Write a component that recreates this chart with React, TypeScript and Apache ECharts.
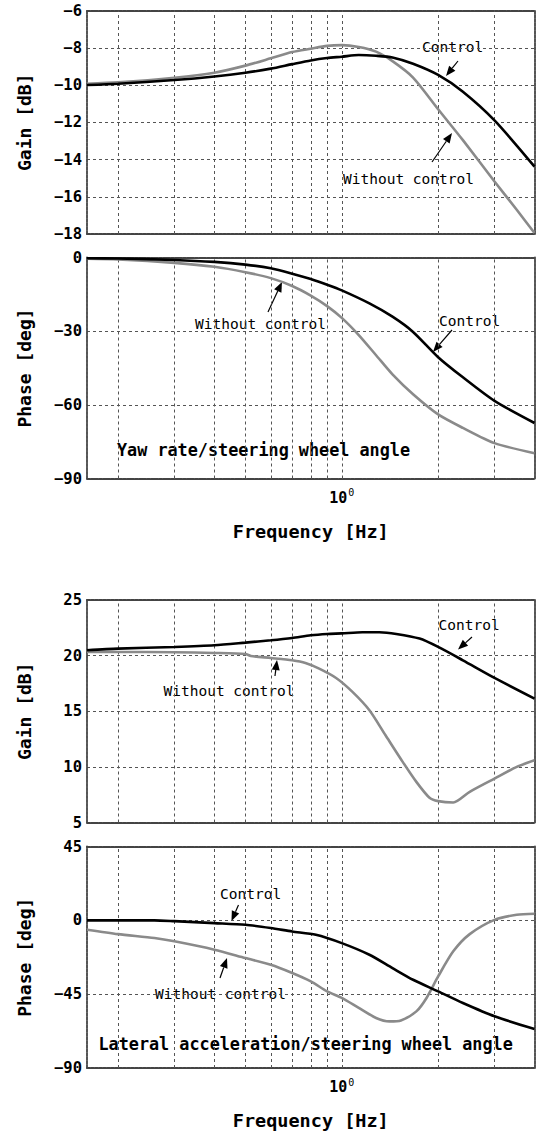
import React, { useEffect, useRef } from 'react';
import * as echarts from 'echarts';

// Yaw rate / steering wheel angle — gain [dB]
const yawGainCtrlFreq = [0.16, 0.2, 0.3, 0.4, 0.5, 0.6, 0.7, 0.8, 0.9, 1.0, 1.13, 1.28, 1.44, 1.67, 2.0, 2.39, 3.0, 4.0];
const yawGainCtrl = [-10.0, -9.93, -9.73, -9.54, -9.34, -9.12, -8.88, -8.68, -8.55, -8.48, -8.39, -8.43, -8.52, -8.86, -9.46, -10.36, -11.9, -14.38];
const yawGainWoFreq = [0.16, 0.2, 0.3, 0.4, 0.5, 0.6, 0.7, 0.8, 0.9, 1.0, 1.13, 1.28, 1.44, 1.67, 2.0, 2.39, 3.0, 3.52, 4.0];
const yawGainWo = [-9.93, -9.86, -9.61, -9.34, -8.96, -8.57, -8.23, -8.05, -7.9, -7.86, -7.96, -8.21, -8.72, -9.6, -11.3, -12.96, -15.18, -16.7, -17.95];

// Yaw rate / steering wheel angle — phase [deg]
const yawPhaseCtrlFreq = [0.16, 0.2, 0.3, 0.4, 0.5, 0.6, 0.7, 0.8, 0.9, 1.0, 1.22, 1.44, 1.67, 2.0, 2.39, 3.0, 4.0];
const yawPhaseCtrl = [-0.3, -0.4, -1.0, -1.8, -2.9, -4.4, -6.6, -8.8, -11.1, -13.4, -18.7, -24.1, -30.3, -40.6, -48.8, -58.4, -67.4];
const yawPhaseWoFreq = [0.16, 0.2, 0.3, 0.4, 0.5, 0.6, 0.7, 0.8, 0.9, 1.0, 1.13, 1.28, 1.44, 1.67, 2.0, 2.39, 3.0, 4.0];
const yawPhaseWo = [-0.5, -0.8, -2.2, -3.8, -6.0, -8.4, -11.6, -15.5, -19.8, -24.6, -31.6, -39.8, -47.6, -55.7, -63.9, -69.4, -75.6, -79.7];

// Lateral acceleration / steering wheel angle — gain [dB]
const latGainCtrlFreq = [0.16, 0.2, 0.3, 0.4, 0.5, 0.6, 0.7, 0.8, 0.9, 1.0, 1.16, 1.31, 1.48, 1.75, 2.0, 2.39, 3.0, 4.0];
const latGainCtrl = [20.48, 20.63, 20.78, 20.93, 21.17, 21.38, 21.59, 21.83, 21.95, 22.0, 22.1, 22.1, 21.95, 21.53, 20.78, 19.58, 18.0, 16.14];
const latGainWoFreq = [0.16, 0.2, 0.3, 0.4, 0.5, 0.52, 0.6, 0.7, 0.77, 0.85, 0.96, 1.08, 1.22, 1.37, 1.55, 1.71, 1.88, 2.0, 2.23, 2.51, 3.0, 3.52, 4.0];
const latGainWo = [20.33, 20.33, 20.3, 20.24, 20.15, 19.97, 19.79, 19.58, 19.34, 18.83, 17.99, 16.74, 15.09, 12.84, 10.45, 8.65, 7.22, 6.92, 6.8, 7.76, 8.95, 10.0, 10.6];

// Lateral acceleration / steering wheel angle — phase [deg]
const latPhaseCtrlFreq = [0.16, 0.2, 0.26, 0.3, 0.4, 0.5, 0.6, 0.7, 0.83, 1.0, 1.22, 1.44, 1.67, 2.0, 2.39, 3.0, 4.0];
const latPhaseCtrl = [0, 0, 0, -0.5, -1.7, -2.7, -4.7, -6.8, -8.8, -13.9, -21.0, -29.1, -36.2, -43.3, -50.4, -58.5, -66.2];
const latPhaseWoFreq = [0.16, 0.2, 0.26, 0.3, 0.4, 0.5, 0.6, 0.7, 0.8, 0.9, 1.0, 1.13, 1.28, 1.41, 1.53, 1.71, 1.84, 2.0, 2.23, 2.51, 3.0, 3.52, 4.0];
const latPhaseWo = [-5.7, -8.4, -10.8, -12.8, -17.9, -23.0, -27.1, -32.1, -37.2, -43.3, -47.3, -53.4, -59.5, -61.6, -61.0, -55.5, -47.3, -34.2, -18.9, -8.4, 0.3, 3.4, 4.0];

// Vertical grid frequencies and axis ranges
const freqGrid = [0.2, 0.3, 0.4, 0.5, 0.6, 0.7, 0.8, 0.9, 1, 2, 3];
const freqMin = 0.16;
const freqMax = 4;
const yRanges = [
  { min: -18, max: -6, interval: 2, name: 'Gain [dB]' },
  { min: -90, max: 0, interval: 30, name: 'Phase [deg]' },
  { min: 5, max: 25, interval: 5, name: 'Gain [dB]' },
  { min: -90, max: 45, interval: 45, name: 'Phase [deg]' },
];

const MONO = '"DejaVu Sans Mono", "Liberation Mono", monospace';
const BLACK = '#000000';
const GRAY = '#8a8a8a';
const GRID_COLOR = '#555555';
const BORDER_COLOR = '#444444';

const pairs = (f: number[], v: number[]) => f.map((x, i) => [x, v[i]]);

const layouts = [
  { top: 10.5, height: 223.5 },
  { top: 257.5, height: 221 },
  { top: 600, height: 222.5 },
  { top: 846.5, height: 221.5 },
];

function arrow(x1: number, y1: number, x2: number, y2: number) {
  const dx = x2 - x1;
  const dy = y2 - y1;
  const len = Math.hypot(dx, dy);
  const ux = dx / len;
  const uy = dy / len;
  const hl = 10;
  const hw = 4;
  const bx = x2 - ux * hl;
  const by = y2 - uy * hl;
  return [
    { type: 'line', silent: true, shape: { x1, y1, x2: bx, y2: by }, style: { stroke: BLACK, lineWidth: 1.2 } },
    {
      type: 'polygon',
      silent: true,
      shape: { points: [[x2, y2], [bx - uy * hw, by + ux * hw], [bx + uy * hw, by - ux * hw]] },
      style: { fill: BLACK },
    },
  ];
}

function label(x: number, y: number, text: string, bold = false, size = 14.5) {
  return {
    type: 'text',
    silent: true,
    x,
    y,
    style: {
      text,
      fill: BLACK,
      fontFamily: MONO,
      fontSize: size,
      fontWeight: bold ? 'bold' : 'normal',
      align: 'left',
      textAlign: 'left',
      verticalAlign: 'middle',
      textVerticalAlign: 'middle',
    },
  };
}

function buildOption() {
  const grid = layouts.map((l) => ({ left: 87, width: 447.5, top: l.top, height: l.height, show: false }));
  const axisLineStyle = { color: BORDER_COLOR, width: 1.8, type: [3, 1] as any };

  const xAxis: any[] = [];
  const yAxis: any[] = [];
  layouts.forEach((_, i) => {
    const withLabels = i === 1 || i === 3;
    xAxis.push({
      type: 'log',
      logBase: 10,
      gridIndex: i,
      min: freqMin,
      max: freqMax,
      position: 'bottom',
      axisLine: { show: true, onZero: false, lineStyle: axisLineStyle },
      axisTick: { show: false },
      splitLine: { show: false },
      axisLabel: {
        show: withLabels,
        margin: 9,
        showMinLabel: false,
        showMaxLabel: false,
        formatter: (v: number) => {
          const e = Math.log10(v);
          if (Math.abs(e - Math.round(e)) > 1e-6) return '';
          return `{b|10}{s|${Math.round(e)}}`;
        },
        rich: {
          b: { fontSize: 15, fontWeight: 'bold', fontFamily: MONO, color: BLACK, lineHeight: 20 },
          s: { fontSize: 10, fontFamily: MONO, color: BLACK, verticalAlign: 'top', padding: [0, 0, 0, 1] },
        },
      },
      name: withLabels ? 'Frequency [Hz]' : '',
      nameLocation: 'middle',
      nameGap: 43,
      nameTextStyle: { fontSize: 18.5, fontWeight: 'bold', fontFamily: MONO, color: BLACK },
    });
    xAxis.push({
      type: 'log',
      logBase: 10,
      gridIndex: i,
      min: freqMin,
      max: freqMax,
      position: 'top',
      axisLine: { show: true, onZero: false, lineStyle: axisLineStyle },
      axisTick: { show: false },
      splitLine: { show: false },
      axisLabel: { show: false },
    });
    const r = yRanges[i];
    yAxis.push({
      type: 'value',
      gridIndex: i,
      min: r.min,
      max: r.max,
      interval: r.interval,
      position: 'left',
      axisLine: { show: true, onZero: false, lineStyle: axisLineStyle },
      axisTick: { show: false },
      splitLine: { show: true, lineStyle: { color: GRID_COLOR, width: 1, type: [3, 3] } },
      axisLabel: {
        margin: 5,
        fontSize: 15.5,
        fontWeight: 'bold',
        fontFamily: MONO,
        color: BLACK,
        formatter: (v: number) => (v < 0 ? '\u2212' + Math.abs(v) : String(v)),
      },
      name: r.name,
      nameLocation: 'middle',
      nameGap: 54,
      nameTextStyle: { fontSize: 18, fontWeight: 'bold', fontFamily: MONO, color: BLACK },
    });
    yAxis.push({
      type: 'value',
      gridIndex: i,
      min: r.min,
      max: r.max,
      position: 'right',
      axisLine: { show: true, onZero: false, lineStyle: axisLineStyle },
      axisTick: { show: false },
      splitLine: { show: false },
      axisLabel: { show: false },
    });
  });

  const curves = [
    { g: 0, f: yawGainWoFreq, v: yawGainWo, c: GRAY, name: 'Without control' },
    { g: 0, f: yawGainCtrlFreq, v: yawGainCtrl, c: BLACK, name: 'Control' },
    { g: 1, f: yawPhaseWoFreq, v: yawPhaseWo, c: GRAY, name: 'Without control' },
    { g: 1, f: yawPhaseCtrlFreq, v: yawPhaseCtrl, c: BLACK, name: 'Control' },
    { g: 2, f: latGainWoFreq, v: latGainWo, c: GRAY, name: 'Without control' },
    { g: 2, f: latGainCtrlFreq, v: latGainCtrl, c: BLACK, name: 'Control' },
    { g: 3, f: latPhaseWoFreq, v: latPhaseWo, c: GRAY, name: 'Without control' },
    { g: 3, f: latPhaseCtrlFreq, v: latPhaseCtrl, c: BLACK, name: 'Control' },
  ];

  const series: any[] = [];
  layouts.forEach((_, i) => {
    series.push({
      type: 'line',
      xAxisIndex: i * 2,
      yAxisIndex: i * 2,
      data: [],
      silent: true,
      z: 1,
      markLine: {
        silent: true,
        z: 1,
        symbol: 'none',
        animation: false,
        label: { show: false },
        lineStyle: { color: GRID_COLOR, width: 1, type: [3, 3] },
        data: freqGrid.map((f) => ({ xAxis: f })),
      },
    });
  });
  curves.forEach((c) => {
    series.push({
      type: 'line',
      name: c.name,
      xAxisIndex: c.g * 2,
      yAxisIndex: c.g * 2,
      data: pairs(c.f, c.v),
      showSymbol: false,
      smooth: 0.25,
      silent: true,
      z: 3,
      lineStyle: { color: c.c, width: 2.6 },
    });
  });

  const graphic: any[] = [
    // Yaw rate gain
    label(422, 47, 'Control'),
    ...arrow(458, 61, 446, 76),
    label(343, 178.5, 'Without control'),
    ...arrow(432, 162, 452, 133),
    // Yaw rate phase
    label(195, 323.5, 'Without control'),
    ...arrow(268, 312, 282, 282),
    label(439, 321, 'Control'),
    ...arrow(452, 330, 433, 352),
    label(117, 450, 'Yaw rate/steering wheel angle', true, 16.8),
    // Lateral acceleration gain
    label(438.5, 625, 'Control'),
    ...arrow(472, 637, 458, 649.5),
    label(163.5, 690.5, 'Without control'),
    ...arrow(275, 676, 277, 660),
    // Lateral acceleration phase
    label(220, 893.5, 'Control'),
    ...arrow(238.5, 905, 231.5, 921),
    label(155, 993.5, 'Without control'),
    ...arrow(220, 978, 227, 958),
    label(98.5, 1044, 'Lateral acceleration/steering wheel angle', true, 16.8),
  ];

  return {
    animation: false,
    backgroundColor: '#ffffff',
    grid,
    xAxis,
    yAxis,
    series,
    graphic,
  };
}

export default function App() {
  const ref = useRef<HTMLDivElement>(null);
  useEffect(() => {
    if (!ref.current) return;
    const chart = echarts.init(ref.current, null, { renderer: 'svg' });
    chart.setOption(buildOption() as any);
    return () => chart.dispose();
  }, []);
  return (
    <div
      ref={ref}
      style={{ position: 'absolute', left: 0, top: 0, width: 540, height: 1132, background: '#fff' }}
    />
  );
}
